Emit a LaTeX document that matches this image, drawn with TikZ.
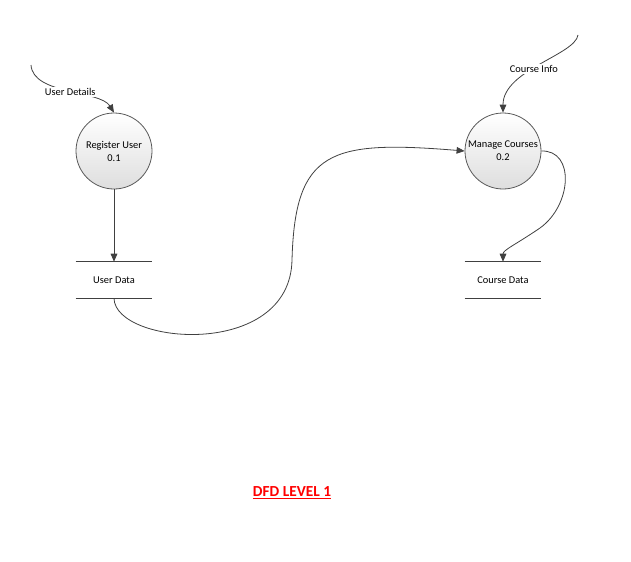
\documentclass[tikz,border=0pt]{standalone}
\usepackage{fontspec}
\setmainfont{Carlito}
\usetikzlibrary{arrows.meta}

\tikzset{
  process/.style={circle, draw=black!65, line width=0.6pt, minimum size=57pt, inner sep=0pt,
    top color=white, bottom color=black!13, align=center, font=\fontsize{7.8}{9.75}\selectfont},
  store/.style={minimum width=57pt, minimum height=27pt, inner sep=0pt, font=\fontsize{7.8}{9}\selectfont},
  flow/.style={draw=black!75, line width=0.6pt, -{Triangle[length=6pt,width=5pt]}},
  flowlabel/.style={fill=white, inner sep=1pt, font=\fontsize{7.8}{9}\selectfont}
}

\begin{document}
\begin{tikzpicture}[x=0.75pt,y=0.75pt,yscale=-1,xscale=1]
\useasboundingbox (0,0) rectangle (631,561);

% Processes
\node[process] (ru) at (114,151) {Register User\\0.1};
\node[process] (mc) at (503,151) {Manage Courses\\0.2};

% Data stores
\node[store] (ud) at (114,280) {User Data};
\draw[black!75, line width=0.6pt] (ud.north west) -- (ud.north east) (ud.south west) -- (ud.south east);
\node[store] (cd) at (503,280) {Course Data};
\draw[black!75, line width=0.6pt] (cd.north west) -- (cd.north east) (cd.south west) -- (cd.south east);

% Sources of the incoming flows
\coordinate (usrc) at (31,65);
\coordinate (csrc) at (578,35);

% Flows
\draw[flow] (usrc) .. controls (33,95) and (100,90) .. node[flowlabel, pos=0.52] (udlab) {User Details} (ru.north);
\draw[flow] (csrc) .. controls (575,55) and (503,70) .. node[flowlabel, pos=0.55] (cilab) {Course Info} (mc.north);
\draw[flow] (ru.south) -- (ud.north);
\draw[flow] (ud.south) .. controls (115,345) and (290,360) .. (292,260) .. controls (295,150) and (330,140) .. (mc.west);
\draw[flow] (mc.east) .. controls (575,150) and (572,205) .. (540,228) .. controls (515,245) and (503,250) .. (cd.north);

% Title
\node[text=red, font=\fontsize{11.5}{13}\selectfont\bfseries] (title) at (292,493) {\underline{DFD LEVEL 1}};

\end{tikzpicture}
\end{document}
